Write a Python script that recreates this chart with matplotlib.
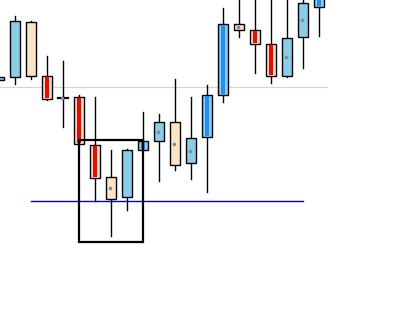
import numpy as np
import matplotlib
matplotlib.use('Agg')
import matplotlib.pyplot as plt
from matplotlib.patches import Rectangle

## données des bougies (prix en unités arbitraires)
opens  = [240, 243, 298, 244, 222, 223, 175, 143, 123, 170, 179, 198, 157, 183, 225, 296, 290, 276, 244, 283, 313]
closes = [243, 299, 244, 221, 222, 176, 142, 121, 170, 179, 198, 155, 182, 225, 296, 290, 276, 244, 282, 317, 335]
highs  = [243, 304, 299, 264, 259, 225, 223, 170, 171, 208, 206, 241, 223, 235, 312, 330, 330, 330, 330, 330, 340]
lows   = [240, 236, 241, 220, 193, 176, 119, 84, 110, 170, 139, 150, 141, 128, 218, 283, 247, 237, 243, 252, 284]
# barre interne: 'r' rouge, 'b' bleue, '' aucune
barres = ['', '', '', 'r', '', 'r', 'r', '', '', 'b', '', '', '', 'b', 'b', '', 'r', 'r', '', '', 'b']
# point gris au milieu du corps
points = [0, 0, 0, 0, 1, 0, 1, 1, 0, 0, 1, 1, 1, 1, 0, 1, 1, 1, 1, 1, 0]

niveau_gris = 233
niveau_bleu = 119
boite = (5, 9, 78, 180)  # x0, x1, y0, y1

fig = plt.figure(figsize=(4.13, 3.2), dpi=100)
ax = fig.add_axes([0, 0, 1, 1])
ax.set_xlim(0.0625, 25.875)
ax.set_ylim(0, 320)
ax.axis('off')

w = 0.625
ax.plot([0.06, 20.5], [niveau_gris, niveau_gris], color='#d3d3d3', lw=0.9, zorder=1)

for i in range(len(opens)):
    o, c, h, l = opens[i], closes[i], highs[i], lows[i]
    ax.plot([i, i], [l, h], color='black', lw=1.0, zorder=2)
    bas, haut = min(o, c), max(o, c)
    if o == c:
        ax.plot([i - w/2, i + w/2], [o, o], color='black', lw=1.6, zorder=3)
    else:
        coul = '#87ceeb' if c > o else '#ffe4c4'
        ax.add_patch(Rectangle((i - w/2, bas), w, haut - bas, facecolor=coul,
                               edgecolor='black', lw=1.0, zorder=3))
    if points[i]:
        ax.plot(i - 0.05, (o + c) / 2, 'o', ms=2.6, color='#7f8c9a', mew=0, zorder=4)
    if barres[i]:
        bc = 'red' if barres[i] == 'r' else '#1e90ff'
        ax.add_patch(Rectangle((i - 0.095, bas + 0.6), 0.19, haut - bas - 1.2,
                               facecolor=bc, edgecolor='none', zorder=5))

ax.plot([2, 19], [niveau_bleu, niveau_bleu], color='#0000cd', lw=1.0, zorder=6)

x0, x1, y0, y1 = boite
ax.add_patch(Rectangle((x0, y0), x1 - x0, y1 - y0, facecolor='none',
                       edgecolor='black', lw=1.6, zorder=7))

fig.savefig('out.png', dpi=100)
